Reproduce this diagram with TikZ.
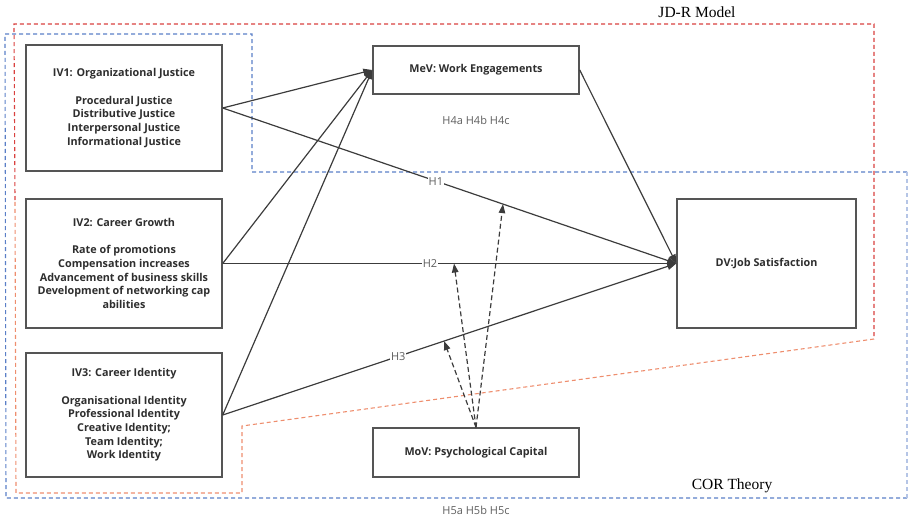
\documentclass[tikz,border=0pt]{standalone}
\usepackage{fontspec}
\setmainfont{Liberation Serif}
\newfontfamily\boxfont{Open Sans}
\usetikzlibrary{arrows.meta}
\definecolor{boxline}{HTML}{555555}
\definecolor{boxtext}{HTML}{2E2E2E}
\definecolor{conncol}{HTML}{3C3C3C}
\definecolor{labcol}{HTML}{5E5E5E}
\definecolor{jdred}{HTML}{D9413F}
\definecolor{jdorange}{HTML}{EE8E6E}
\definecolor{corblue}{HTML}{5B7FC7}
\tikzset{
  varbox/.style={draw=boxline, line width=1.4pt, fill=white, rectangle, align=center,
    text=boxtext, font=\boxfont\bfseries\fontsize{10.8}{13.7}\selectfont, inner sep=0pt},
  conn/.style={draw=conncol, line width=1.2pt, -{Triangle[length=9pt,width=7pt]}},
  modarrow/.style={draw=conncol, line width=1.2pt, dash pattern=on 5pt off 3pt,
    -{Triangle[length=9pt,width=6.5pt]}},
  hlab/.style={fill=white, inner sep=1pt, text=labcol, font=\boxfont\fontsize{11}{12}\selectfont},
  glab/.style={text=labcol, font=\boxfont\fontsize{11}{12}\selectfont},
  region/.style={line width=1.1pt, dash pattern=on 4pt off 3pt},
  theory/.style={font=\fontsize{15.5}{18}\selectfont, text=black}
}
\begin{document}
\begin{tikzpicture}[x=1pt,y=-1pt]
\useasboundingbox (0,0) rectangle (909,519);
% regions
\draw[region, jdred] (15,200) -- (14,24) -- (874,24) -- (874,339);
\draw[region, jdorange] (874,339) -- (242,426) -- (242,493) -- (16,493) -- (15,200);
\draw[region, corblue] (907,172) -- (252,172) -- (252,34) -- (5,34) -- (6,498) -- (907,498);
\draw[region, corblue!45] (907,172) -- (907,498);
% theory labels
\node[theory] (jdr) at (697,12) {JD-R Model};
\node[theory] (cor) at (732,486) {COR Theory};
% variable boxes
\node[varbox, minimum width=196pt, minimum height=126pt] (iv1) at (124,108)
  {IV1: Organizational Justice\\[13.7pt]Procedural Justice\\Distributive Justice\\Interpersonal Justice\\Informational Justice};
\node[varbox, minimum width=196pt, minimum height=129pt] (iv2) at (124,263.5)
  {IV2: Career Growth\\[13.7pt]Rate of promotions\\Compensation increases\\Advancement of business skills\\Development of networking cap\\abilities};
\node[varbox, minimum width=196pt, minimum height=124pt] (iv3) at (124,415)
  {IV3: Career Identity\\[13.7pt]Organisational Identity\\Professional Identity\\Creative Identity;\\Team Identity;\\Work Identity};
\node[varbox, minimum width=206pt, minimum height=48pt] (mev) at (476,70) {MeV: Work Engagements};
\node[varbox, minimum width=179pt, minimum height=129pt] (dv) at (766.5,263.5) {DV:Job Satisfaction};
\node[varbox, minimum width=206pt, minimum height=49pt] (mov) at (476,452.5) {MoV: Psychological Capital};
% group labels
\node[glab] (h4) at (476,120) {H4a H4b H4c};
\node[glab] (h5) at (476,510) {H5a H5b H5c};
% connectors to mediator
\draw[conn] (iv1.east) -- (mev.west);
\draw[conn] (iv2.east) -- (mev.west);
\draw[conn] (iv3.east) -- (mev.west);
% connectors to DV
\draw[conn] (mev.east) -- (dv.west);
\draw[conn] (iv1.east) -- coordinate[pos=0.618] (m1) (dv.west);
\draw[conn] (iv2.east) -- coordinate[pos=0.51] (m2) (dv.west);
\draw[conn] (iv3.east) -- coordinate[pos=0.488] (m3) (dv.west);
\path (iv1.east) -- node[hlab, pos=0.47] (l1) {H1} (dv.west);
\path (iv2.east) -- node[hlab, pos=0.457] (l2) {H2} (dv.west);
\path (iv3.east) -- node[hlab, pos=0.387] (l3) {H3} (dv.west);
% moderation
\draw[modarrow] (mov.north) -- (m1);
\draw[modarrow] (mov.north) -- (m2);
\draw[modarrow] (mov.north) -- (m3);
\end{tikzpicture}
\end{document}
